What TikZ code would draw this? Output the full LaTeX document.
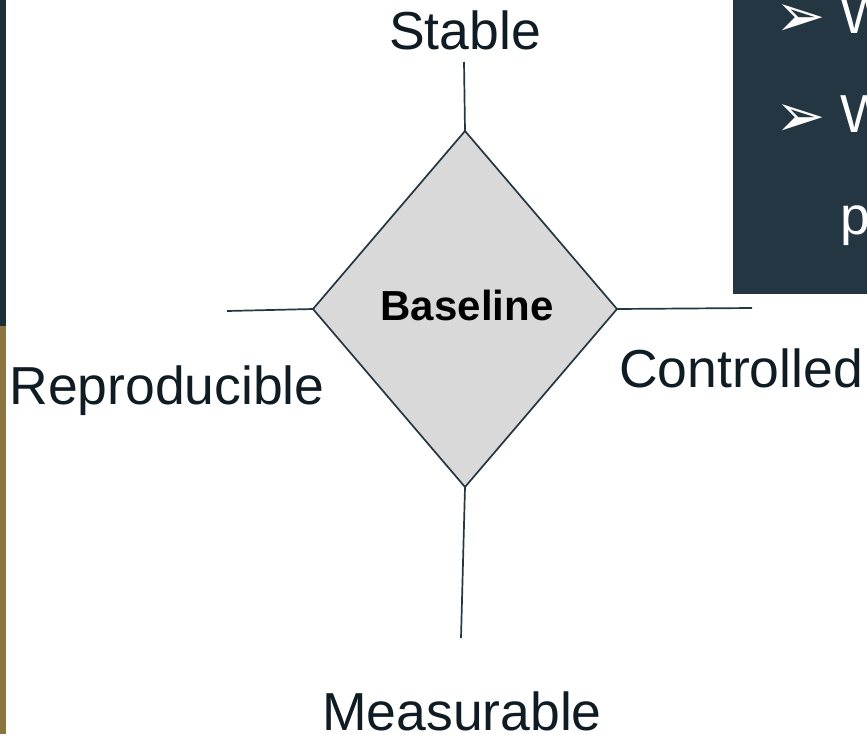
\documentclass[tikz,border=0pt]{standalone}
\usepackage{fontspec}
\setmainfont{Liberation Sans}
\newfontfamily\symfont{DejaVu Sans}
\usetikzlibrary{shapes.geometric}
\definecolor{slate}{HTML}{243642}
\definecolor{inkc}{HTML}{101C24}
\definecolor{goldc}{HTML}{8C7440}
\definecolor{darkstrip}{HTML}{1F2F38}
\definecolor{fillgray}{HTML}{D9D9D9}
\tikzset{
  lbl/.style={font=\fontsize{53.5}{60}\selectfont, text=inkc, inner sep=0pt, anchor=base},
  spoke/.style={draw=slate, line width=1.7pt},
  boxtxt/.style={font=\fontsize{53.5}{60}\selectfont, text=white, inner sep=0pt, anchor=base west},
  bullet/.style={font=\symfont\fontsize{60}{66}\selectfont, text=white, inner sep=0pt, anchor=base west}
}
\begin{document}
\begin{tikzpicture}[x=1pt,y=-1pt]
\useasboundingbox (0,0) rectangle (867,734);
\fill[white] (0,0) rectangle (867,734);
% left strip
\fill[darkstrip] (0,0) rectangle (5.5,326);
\fill[goldc] (0,326) rectangle (5.5,734);
% dark box top right
\begin{scope}
\clip (733,0) rectangle (867,294);
\fill[slate] (733,0) rectangle (867,294);
\node[bullet] (b1) at (775,36) {➢};
\node[boxtxt] (t1) at (840,33) {W};
\node[bullet] (b2) at (775,136) {➢};
\node[boxtxt] (t2) at (840,132) {W};
\node[boxtxt] (t3) at (840,234) {p};
\end{scope}
% diamond
\node[diamond, draw=slate, line width=1.7pt, fill=fillgray, minimum width=304pt, minimum height=356pt, inner sep=0pt, outer sep=0pt] (d) at (465,309) {};
\node[font=\fontsize{42}{50}\selectfont\bfseries, text=black, inner sep=0pt, anchor=base] (base) at (467,320) {Baseline};
% free ends
\coordinate (cn) at (464,62);
\coordinate (cw) at (227,311);
\coordinate (ce) at (752,308);
\coordinate (cs) at (461,638);
\draw[spoke] (d.north) -- (cn);
\draw[spoke] (d.west) -- (cw);
\draw[spoke] (d.east) -- (ce);
\draw[spoke] (d.south) -- (cs);
% labels
\node[lbl] (ls) at (465,49) {Stable};
\node[lbl] (lw) at (167,404) {Reproducible};
\node[lbl] (le) at (741,387) {Controlled};
\node[lbl] (lsouth) at (462,730) {Measurable};
\end{tikzpicture}
\end{document}
